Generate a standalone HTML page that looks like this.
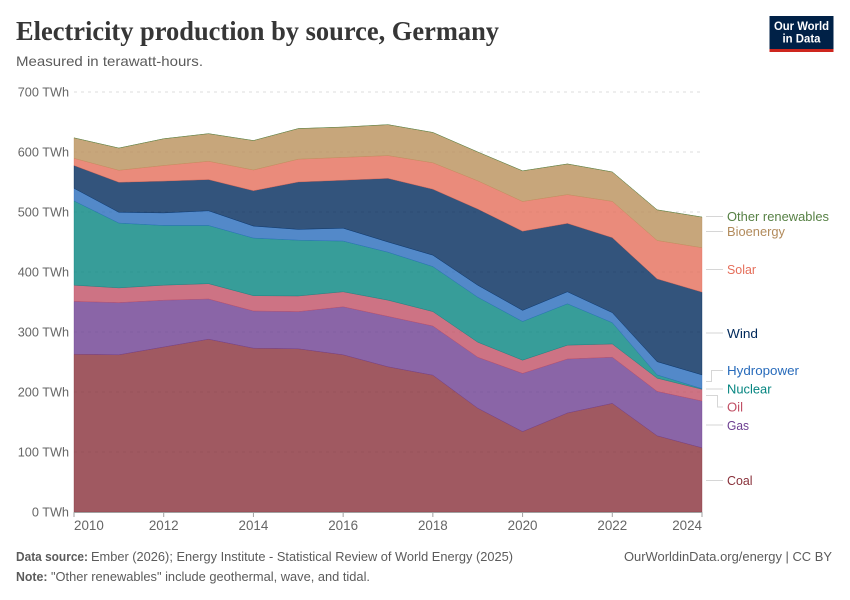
<!DOCTYPE html>
<html lang="en">
<head>
<meta charset="utf-8">
<title>Electricity production by source, Germany</title>
<style>
html,body{margin:0;padding:0;background:#fff;}
svg{display:block;font-family:"Liberation Sans",sans-serif;}
</style>
</head>
<body>
<svg id="chart" width="850" height="600" viewBox="0 0 850 600" xmlns="http://www.w3.org/2000/svg">
  <text x="16" y="40" font-family="'Liberation Serif',serif" font-weight="700" font-size="27" fill="#363636" textLength="483" lengthAdjust="spacingAndGlyphs">Electricity production by source, Germany</text>
  <text x="16" y="66" font-size="14" fill="#5b5b5b" textLength="187" lengthAdjust="spacingAndGlyphs">Measured in terawatt-hours.</text>

  <g>
    <rect x="769.5" y="16" width="64" height="36" fill="#002147"/>
    <rect x="769.5" y="49" width="64" height="3" fill="#ce261e"/>
    <text x="801.5" y="30" font-size="12" font-weight="700" fill="#fff" text-anchor="middle" textLength="55" lengthAdjust="spacingAndGlyphs">Our World</text>
    <text x="801.5" y="42.5" font-size="12" font-weight="700" fill="#fff" text-anchor="middle" textLength="38" lengthAdjust="spacingAndGlyphs">in Data</text>
  </g>

  <g id="grid"></g>
  <g id="areas"></g>
  <g id="axes"></g>

  <g fill="none" stroke="#d6d6d6" stroke-width="1">
    <path d="M706 216.5H723"/>
    <path d="M706 231.5H723"/>
    <path d="M706 269.5H723"/>
    <path d="M706 333H723"/>
    <path d="M706 381.5H711.5V370.5H723"/>
    <path d="M706 389H723"/>
    <path d="M706 395.5H717.5V407H723"/>
    <path d="M706 425H723"/>
    <path d="M706 480.5H723"/>
  </g>
  <g font-size="13">
    <text x="727" y="221" fill="#578145" textLength="102" lengthAdjust="spacingAndGlyphs">Other renewables</text>
    <text x="727" y="236" fill="#b28b5c" textLength="58" lengthAdjust="spacingAndGlyphs">Bioenergy</text>
    <text x="727" y="274" fill="#e56e5a" textLength="29" lengthAdjust="spacingAndGlyphs">Solar</text>
    <text x="727" y="338" fill="#00295b" textLength="31" lengthAdjust="spacingAndGlyphs">Wind</text>
    <text x="727" y="375" fill="#286bbb" textLength="72" lengthAdjust="spacingAndGlyphs">Hydropower</text>
    <text x="727" y="393.5" fill="#058580" textLength="44.5" lengthAdjust="spacingAndGlyphs">Nuclear</text>
    <text x="727" y="411.5" fill="#c15065" textLength="16" lengthAdjust="spacingAndGlyphs">Oil</text>
    <text x="727" y="430" fill="#6d3e91" textLength="22" lengthAdjust="spacingAndGlyphs">Gas</text>
    <text x="727" y="485" fill="#883039" textLength="25.5" lengthAdjust="spacingAndGlyphs">Coal</text>
  </g>

  <g font-size="13" fill="#5b5b5b">
    <text x="16" y="561" font-weight="700" textLength="72" lengthAdjust="spacingAndGlyphs">Data source:</text>
    <text x="91" y="561" textLength="422" lengthAdjust="spacingAndGlyphs">Ember (2026); Energy Institute - Statistical Review of World Energy (2025)</text>
    <text x="624" y="561" textLength="208" lengthAdjust="spacingAndGlyphs">OurWorldinData.org/energy | CC BY</text>
    <text x="16" y="581" font-weight="700" textLength="31.5" lengthAdjust="spacingAndGlyphs">Note:</text>
    <text x="51" y="581" textLength="319" lengthAdjust="spacingAndGlyphs">"Other renewables" include geothermal, wave, and tidal.</text>
  </g>
</svg>
<script>
const years = [2010,2011,2012,2013,2014,2015,2016,2017,2018,2019,2020,2021,2022,2023,2024];
const yTickValues = [0,100,200,300,400,500,600,700];
const xTickValues = [2010,2012,2014,2016,2018,2020,2022,2024];
const coal = [263,262,275,288,273,272,262,242,228,173,134,165,181,127,107];
const gas = [88,87,78,67,62,62,80,84,82,85,97,90,77,74,78];
const oil = [27,24.5,25,25.5,25.5,26,25,27,24,25,22,23,22,22,19.5];
const nuclear = [140.5,108,99.5,97,96,93,84.5,80,75,75,64.5,69,35.5,5.5,1];
const hydropower = [21,18,21,24.5,20,18,21.5,17,19,20,18.5,20,16.7,22,23];
const wind = [38,50,53,52,59,79,80,106,110,127,132,114,125,138,138];
const solar = [12,20,26,30.5,34.5,38,38,38,44,47,49.5,48,60.5,64,74];
const bioenergy = [34,37,44.5,46,49,51,50.5,51.5,50.5,48,51,51,49,51,51];
const otherRenewables = [0.2,0.2,0.2,0.2,0.2,0.2,0.2,0.2,0.2,0.2,0.2,0.2,0.2,0.2,0.2];

const seriesNames = ['coal','gas','oil','nuclear','hydropower','wind','solar','bioenergy','other-renewables'];
const seriesValues = [coal,gas,oil,nuclear,hydropower,wind,solar,bioenergy,otherRenewables];
const seriesColors = ['#883039','#6d3e91','#c15065','#058580','#286bbb','#00295b','#e56e5a','#b9905a','#578145'];

const NS = 'http://www.w3.org/2000/svg';
const plot = {left:74, right:702, top:92, bottom:512};
const xScale = function (year) {
  return plot.left + (year - 2010) / (2024 - 2010) * (plot.right - plot.left);
};
const yScale = function (value) {
  return plot.bottom - value / 700 * (plot.bottom - plot.top);
};
const make = function (tag, parent) {
  const node = document.createElementNS(NS, tag);
  parent.appendChild(node);
  return node;
};

const gridGroup = document.getElementById('grid');
const areaGroup = document.getElementById('areas');
const axisGroup = document.getElementById('axes');

yTickValues.forEach(function (value) {
  if (value > 0) {
    const line = make('line', gridGroup);
    
    
    line.setAttribute('x1', plot.left);
    line.setAttribute('x2', plot.right);
    line.setAttribute('y1', yScale(value));
    line.setAttribute('y2', yScale(value));
    line.setAttribute('stroke', '#dddddd');
    line.setAttribute('stroke-dasharray', '3 4');
  }
  const label = make('text', axisGroup);
  
  
  label.setAttribute('x', 69);
  label.setAttribute('y', yScale(value) + 4.5);
  label.setAttribute('text-anchor', 'end');
  label.setAttribute('font-size', '12.7');
  label.setAttribute('fill', '#666666');
  label.textContent = value + ' TWh';
});

let baseline = years.map(function () { return 0; });
seriesValues.forEach(function (values, s) {
  const tops = values.map(function (v, i) { return baseline[i] + v; });
  let d = '';
  years.forEach(function (year, i) {
    d += (i ? 'L' : 'M') + xScale(year).toFixed(2) + ' ' + yScale(tops[i]).toFixed(2);
  });
  for (let i = years.length - 1; i >= 0; i--) {
    d += 'L' + xScale(years[i]).toFixed(2) + ' ' + yScale(baseline[i]).toFixed(2);
  }
  d += 'Z';
  const area = make('path', areaGroup);
  
  
  area.setAttribute('d', d);
  area.setAttribute('fill', seriesColors[s]);
  area.setAttribute('fill-opacity', '0.8');
  area.setAttribute('stroke', seriesColors[s]);
  area.setAttribute('stroke-width', '0.5');
  area.setAttribute('stroke-opacity', '0.7');
  baseline = tops;
});

const axisLine = make('line', axisGroup);


axisLine.setAttribute('x1', plot.left);
axisLine.setAttribute('x2', plot.right);
axisLine.setAttribute('y1', plot.bottom + 0.5);
axisLine.setAttribute('y2', plot.bottom + 0.5);
axisLine.setAttribute('stroke', '#a1a1a1');

xTickValues.forEach(function (year, i) {
  const tick = make('line', axisGroup);
  
  
  tick.setAttribute('x1', xScale(year));
  tick.setAttribute('x2', xScale(year));
  tick.setAttribute('y1', plot.bottom);
  tick.setAttribute('y2', plot.bottom + 5);
  tick.setAttribute('stroke', '#a1a1a1');
  const label = make('text', axisGroup);
  
  
  const first = i === 0;
  const last = i === xTickValues.length - 1;
  label.setAttribute('x', xScale(year));
  label.setAttribute('y', 530);
  label.setAttribute('text-anchor', first ? 'start' : (last ? 'end' : 'middle'));
  label.setAttribute('font-size', '13.4');
  label.setAttribute('fill', '#666666');
  label.textContent = year;
});
</script>
</body>
</html>
